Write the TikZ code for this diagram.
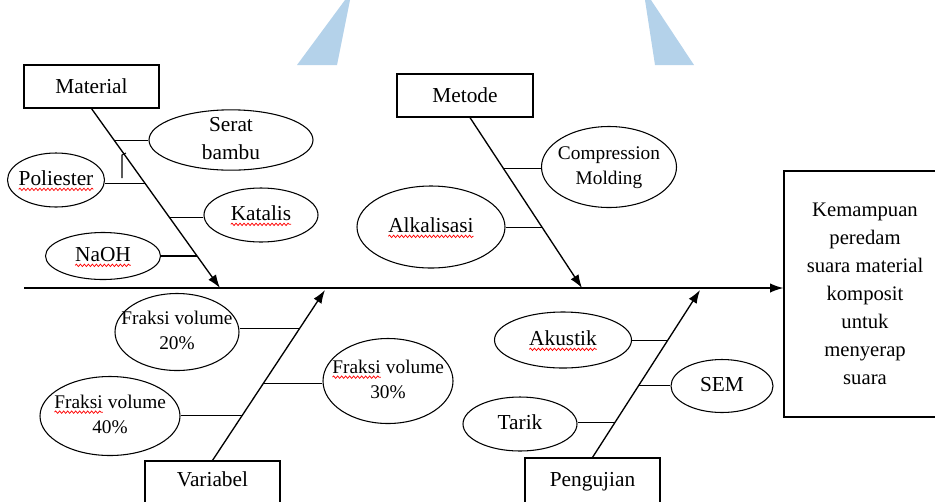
\documentclass[tikz,border=0pt]{standalone}
\usepackage{fontspec}
\setmainfont{Liberation Serif}
\usetikzlibrary{shapes.geometric,arrows.meta,calc,decorations.pathmorphing}
\definecolor{wmblue}{HTML}{B4D2EA}
\tikzset{
  catbox/.style={draw, line width=0.9pt, rectangle, inner sep=0pt, font=\fontsize{16}{19}\selectfont},
  ell/.style={draw, ellipse, line width=0.8pt, inner sep=0pt},
  lab/.style={font=\fontsize{16}{21}\selectfont},
  smalllab/.style={font=\fontsize{14.5}{19}\selectfont},
  bone/.style={line width=1pt, -{Latex[length=10pt,width=7pt]}},
  twig/.style={line width=0.9pt},
}
\newcommand\ztext[1]{\makebox[0pt][c]{\begin{tabular}{@{}c@{}}#1\end{tabular}}}
\newcommand\spellerr[1]{\tikz[baseline=(sw.base)]{\node[shape=rectangle, draw=none, fill=none, minimum width=0pt, minimum height=0pt, inner sep=0pt, outer sep=0pt] (sw) {#1};\draw[red, line width=0.55pt, decorate, decoration={snake,amplitude=0.9pt,segment length=3pt}] ([yshift=-2.8pt]sw.base west) -- ([yshift=-2.8pt]sw.base east);}}
\begin{document}
\begin{tikzpicture}[x=0.75pt,y=-0.75pt]
\useasboundingbox (0,0) rectangle (935,501);
\clip (0,0) rectangle (935,501);
% watermark wedges
\fill[wmblue] (345,0) -- (350,0) -- (337,65) -- (297,65) -- cycle;
\fill[wmblue] (645,0) -- (651,0) -- (694,65) -- (655,65) -- cycle;
% category boxes
\node[catbox, minimum width=101.25pt, minimum height=32.25pt] (mat) at (91.5,86.5) {Material};
\node[catbox, minimum width=102pt, minimum height=32.25pt] (met) at (465,95.5) {Metode};
\node[catbox, text width=101.25pt, align=center, text height=18.75pt, text depth=40pt, anchor=base] (var) at (212.5,486) {Variabel};
\node[catbox, text width=101.25pt, align=center, text height=21pt, text depth=40pt, anchor=base] (pen) at (592.5,486) {Pengujian};
% result box
\node[draw, line width=0.9pt, inner sep=0pt, minimum width=121.5pt, minimum height=184.5pt, align=center, font=\fontsize{15.5}{21}\selectfont] (res) at (865,294) {Kemampuan\\peredam\\suara material\\komposit\\untuk\\menyerap\\suara};
% spine
\coordinate (spl) at (24,288);
\draw[bone] (spl) -- (spl -| res.west);
% branch end points
\coordinate (me) at (220,288);
\coordinate (ms) at ([xshift=3.75pt]met.south);
\coordinate (mte) at (582,288);
\coordinate (ve) at (325,290);
\coordinate (pe) at (700,290);
\draw[bone] (mat.south) -- (me);
\draw[bone] (ms) -- (mte);
\draw[bone] (var.north) -- (ve);
\draw[bone] (pen.north) -- (pe);
% cause ellipses
\node[ell, lab, minimum width=123pt, minimum height=45pt, inner ysep=-5pt] (sb) at (231,140) {\ztext{Serat\\bambu}};
\node[ell, lab, minimum width=72.75pt, minimum height=40.5pt] (pol) at (56,180) {\ztext{\spellerr{Poliester}}};
\node[ell, lab, minimum width=85.5pt, minimum height=40.5pt] (kat) at (261,215) {\ztext{\spellerr{Katalis}}};
\node[ell, lab, minimum width=86.25pt, minimum height=35.25pt] (naoh) at (103,256) {\ztext{\spellerr{NaOH}}};
\node[ell, smalllab, minimum width=101.25pt, minimum height=60.75pt] (comp) at (609,167) {\ztext{Compression\\Molding}};
\node[ell, lab, minimum width=111pt, minimum height=61.5pt] (alk) at (431,227) {\ztext{\spellerr{Alkalisasi}\hspace{10pt}}};
\node[ell, smalllab, minimum width=93pt, minimum height=57.75pt] (f20) at (177,332) {\ztext{Fraksi volume\\20\%}};
\node[ell, smalllab, minimum width=97.5pt, minimum height=63.75pt] (f30) at (388,381) {\ztext{\spellerr{Fraksi} volume\\30\%}};
\node[ell, smalllab, minimum width=105pt, minimum height=59.25pt] (f40) at (110,416) {\ztext{\spellerr{Fraksi} volume\\40\%}};
\node[ell, lab, minimum width=102.75pt, minimum height=42pt] (aku) at (563,340) {\ztext{\spellerr{Akustik}}};
\node[ell, lab, minimum width=76.5pt, minimum height=39.75pt] (sem) at (722,386) {\ztext{SEM}};
\node[ell, lab, minimum width=85.5pt, minimum height=40.5pt] (tar) at (520,424) {\ztext{Tarik}};
% attachment points on the bones
\coordinate (c1) at ($(mat.south)!0.178!(me)$);
\coordinate (c2) at ($(mat.south)!0.417!(me)$);
\coordinate (c3) at ($(mat.south)!0.606!(me)$);
\coordinate (c4) at ($(mat.south)!0.822!(me)$);
\coordinate (c5) at ($(ms)!0.298!(mte)$);
\coordinate (c6) at ($(ms)!0.643!(mte)$);
\coordinate (c7) at ($(var.north)!0.772!(ve)$);
\coordinate (c8) at ($(var.north)!0.450!(ve)$);
\coordinate (c9) at ($(var.north)!0.263!(ve)$);
\coordinate (c10) at ($(pen.north)!0.696!(pe)$);
\coordinate (c11) at ($(pen.north)!0.429!(pe)$);
\coordinate (c12) at ($(pen.north)!0.208!(pe)$);
% sub-cause connectors
\draw[twig] (c1) -- (c1 -| sb.west);
\draw[twig] (c2) -- (c2 -| pol.east);
\draw[twig] (c3) -- (c3 -| kat.west);
\draw[twig] (c4) -- (c4 -| naoh.east);
\draw[twig] (c5) -- (c5 -| comp.west);
\draw[twig] (c6) -- (c6 -| alk.east);
\draw[twig] (c7) -- (c7 -| f20.east);
\draw[twig] (c8) -- (c8 -| f30.west);
\draw[twig] (c9) -- (c9 -| f40.east);
\draw[twig] (c10) -- (c10 -| aku.east);
\draw[twig] (c11) -- (c11 -| sem.west);
\draw[twig] (c12) -- (c12 -| tar.east);
% stray mark
\draw[line width=0.8pt] (122,178) -- (122,155) -- (126,153);
\end{tikzpicture}
\end{document}
